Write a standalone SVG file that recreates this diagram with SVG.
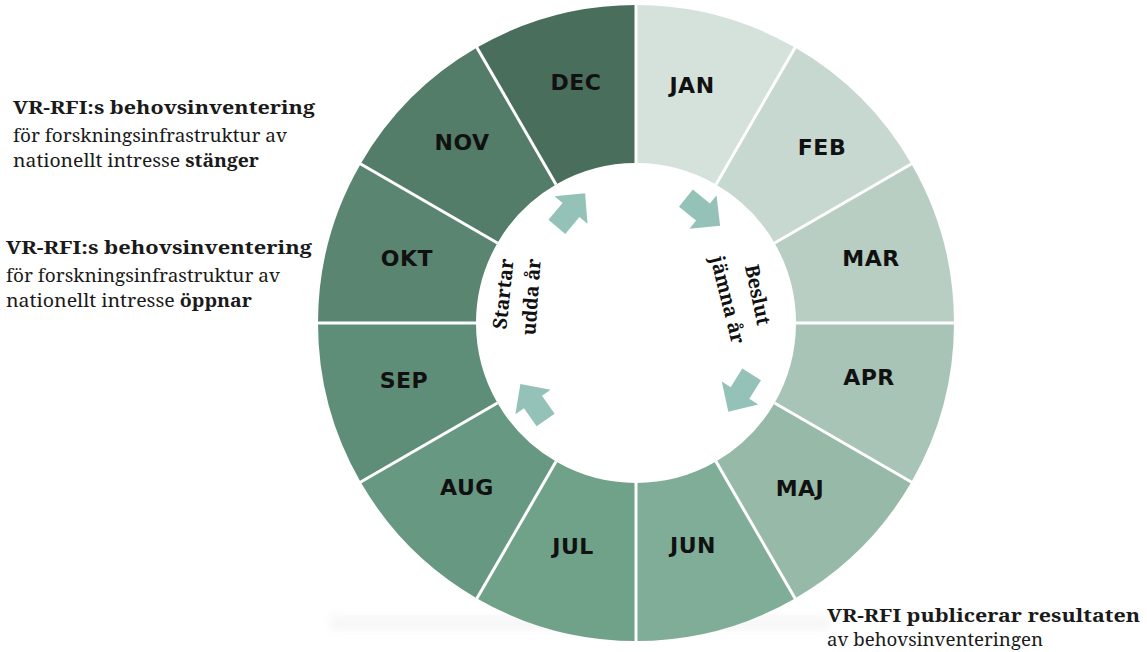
<svg xmlns="http://www.w3.org/2000/svg" width="1147" height="652" viewBox="0 0 1147 652">
  <defs>
    <style>
      .mon { font-family: "DejaVu Sans", Verdana, sans-serif; font-weight: bold; font-size: 22px; fill: #111; text-anchor: middle; letter-spacing: 0.5px; }
      .sep { stroke: #ffffff; stroke-width: 3; }
      .arrow { fill: #94c2b8; }
      .note { font-family: "Noto Serif", "DejaVu Serif", Georgia, serif; font-size: 18px; fill: #1a1a1a; }
      .b { font-weight: bold; }
      .inner { font-family: "Noto Serif", "DejaVu Serif", Georgia, serif; font-weight: bold; font-size: 19.5px; fill: #111; text-anchor: middle; }
    </style>
    <path id="arr" d="M-22,-11 L0,-11 L0,-21.5 L22,0 L0,21.5 L0,11 L-22,11 Z"/>
    <filter id="blur" x="-10%" y="-100%" width="120%" height="300%">
      <feGaussianBlur stdDeviation="4"/>
    </filter>
  </defs>
  <rect width="1147" height="652" fill="#ffffff"/>
  <rect x="330" y="615" width="500" height="16" fill="#e9e9e9" opacity="0.35" filter="url(#blur)"/>

  <g id="wheel">
    <g id="jan"><path fill="#d4e2db" d="M636,5 A318,318 0 0 1 795,47.6 L716,184.44 A160,160 0 0 0 636,163 Z"/><text class="mon" x="692" y="93">JAN</text></g>
    <g id="feb"><path fill="#c6d8cf" d="M795,47.6 A318,318 0 0 1 911.4,164 L774.56,243 A160,160 0 0 0 716,184.44 Z"/><text class="mon" x="822" y="155">FEB</text></g>
    <g id="mar"><path fill="#b8cec3" d="M911.4,164 A318,318 0 0 1 954,323 L796,323 A160,160 0 0 0 774.56,243 Z"/><text class="mon" x="871" y="266">MAR</text></g>
    <g id="apr"><path fill="#a7c4b6" d="M954,323 A318,318 0 0 1 911.4,482 L774.56,403 A160,160 0 0 0 796,323 Z"/><text class="mon" x="869" y="385">APR</text></g>
    <g id="maj"><path fill="#97b9a8" d="M911.4,482 A318,318 0 0 1 795,598.4 L716,461.56 A160,160 0 0 0 774.56,403 Z"/><text class="mon" x="800" y="496">MAJ</text></g>
    <g id="jun"><path fill="#7fad97" d="M795,598.4 A318,318 0 0 1 636,641 L636,483 A160,160 0 0 0 716,461.56 Z"/><text class="mon" x="693" y="553">JUN</text></g>
    <g id="jul"><path fill="#70a189" d="M636,641 A318,318 0 0 1 477,598.4 L556,461.56 A160,160 0 0 0 636,483 Z"/><text class="mon" x="573" y="554">JUL</text></g>
    <g id="aug"><path fill="#679882" d="M477,598.4 A318,318 0 0 1 360.6,482 L497.44,403 A160,160 0 0 0 556,461.56 Z"/><text class="mon" x="467" y="495">AUG</text></g>
    <g id="sep"><path fill="#5f8e78" d="M360.6,482 A318,318 0 0 1 318,323 L476,323 A160,160 0 0 0 497.44,403 Z"/><text class="mon" x="404" y="388">SEP</text></g>
    <g id="okt"><path fill="#5a8571" d="M318,323 A318,318 0 0 1 360.6,164 L497.44,243 A160,160 0 0 0 476,323 Z"/><text class="mon" x="407" y="266">OKT</text></g>
    <g id="nov"><path fill="#537d69" d="M360.6,164 A318,318 0 0 1 477,47.6 L556,184.44 A160,160 0 0 0 497.44,243 Z"/><text class="mon" x="462" y="150">NOV</text></g>
    <g id="dec"><path fill="#4a6e5c" d="M477,47.6 A318,318 0 0 1 636,5 L636,163 A160,160 0 0 0 556,184.44 Z"/><text class="mon" x="576" y="90">DEC</text></g>
  </g>

  <g id="connectors">
    <line class="sep" x1="636" y1="163" x2="636" y2="3"/>
    <line class="sep" x1="716" y1="184.44" x2="796" y2="46"/>
    <line class="sep" x1="774.56" y1="243" x2="913" y2="163"/>
    <line class="sep" x1="796" y1="323" x2="956" y2="323"/>
    <line class="sep" x1="774.56" y1="403" x2="913" y2="483"/>
    <line class="sep" x1="716" y1="461.56" x2="796" y2="600"/>
    <line class="sep" x1="636" y1="483" x2="636" y2="643"/>
    <line class="sep" x1="556" y1="461.56" x2="476" y2="600"/>
    <line class="sep" x1="497.44" y1="403" x2="359" y2="483"/>
    <line class="sep" x1="476" y1="323" x2="316" y2="323"/>
    <line class="sep" x1="497.44" y1="243" x2="359" y2="163"/>
    <line class="sep" x1="556" y1="184.44" x2="476" y2="46"/>
    <use href="#arr" class="arrow" transform="translate(571 210) rotate(-50)"/>
    <use href="#arr" class="arrow" transform="translate(703 212) rotate(39)"/>
    <use href="#arr" class="arrow" transform="translate(740 393) rotate(122)"/>
    <use href="#arr" class="arrow" transform="translate(533 402) rotate(235)"/>
  </g>

  <g id="inner-labels">
    <text class="inner" transform="translate(504 294) rotate(-84)" y="6">Startar</text>
    <text class="inner" transform="translate(532 297) rotate(-86)" y="6">udda år</text>
    <text class="inner" transform="translate(757 295) rotate(78)" y="6">Beslut</text>
    <text class="inner" transform="translate(727 300) rotate(76)" y="6">jämna år</text>
  </g>

  <g id="note-close">
    <text class="note b" x="13" y="114" textLength="302" lengthAdjust="spacingAndGlyphs">VR-RFI:s behovsinventering</text>
    <text class="note" x="13" y="142" textLength="274" lengthAdjust="spacingAndGlyphs">för forskningsinfrastruktur av</text>
    <text class="note" x="13" y="167" textLength="246" lengthAdjust="spacingAndGlyphs">nationellt intresse <tspan class="b">stänger</tspan></text>
  </g>
  <g id="note-open">
    <text class="note b" x="6" y="254" textLength="306" lengthAdjust="spacingAndGlyphs">VR-RFI:s behovsinventering</text>
    <text class="note" x="6" y="282" textLength="274" lengthAdjust="spacingAndGlyphs">för forskningsinfrastruktur av</text>
    <text class="note" x="6" y="307" textLength="246" lengthAdjust="spacingAndGlyphs">nationellt intresse <tspan class="b">öppnar</tspan></text>
  </g>
  <g id="note-publish">
    <text class="note b" x="827" y="622" textLength="313" lengthAdjust="spacingAndGlyphs">VR-RFI publicerar resultaten</text>
    <text class="note" x="827" y="646" textLength="216" lengthAdjust="spacingAndGlyphs">av behovsinventeringen</text>
  </g>
</svg>
